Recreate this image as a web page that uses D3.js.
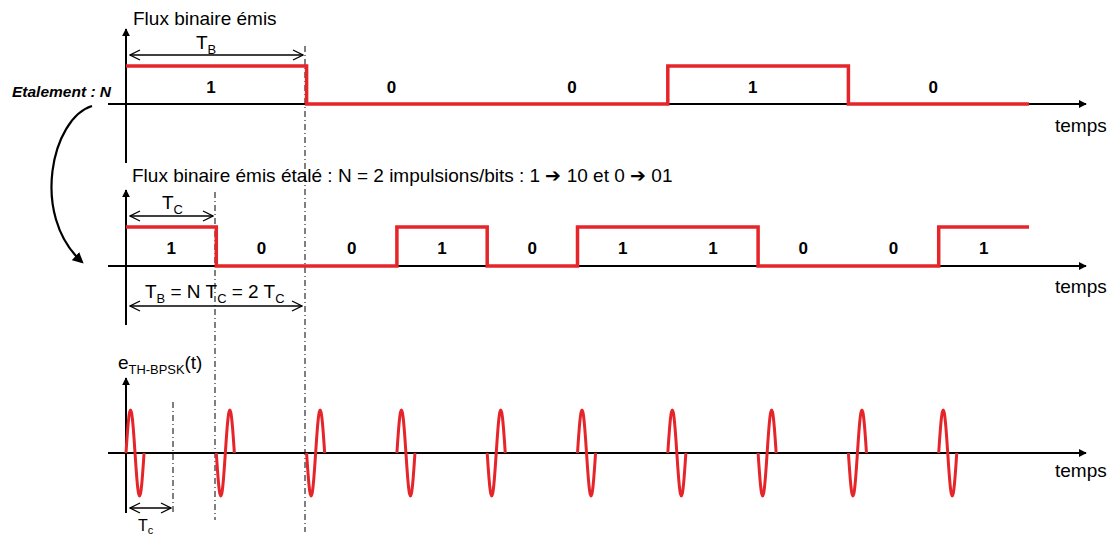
<!DOCTYPE html>
<html><head><meta charset="utf-8">
<script src="https://cdn.jsdelivr.net/npm/d3@7"></script>
<style>
body{margin:0;background:#fff;}
svg{display:block;font-family:"Liberation Sans",Arial,sans-serif;}
</style></head>
<body>
<svg id="c" width="1108" height="537"></svg>
<script>
// ---- data ----
const bits = [1, 0, 0, 1, 0];
const bitLabels = ["1", "0", "0", "1", "0"];
const chips = [1, 0, 0, 1, 0, 1, 1, 0, 0, 1];
const chipLabels = ["1", "0", "0", "1", "0", "1", "1", "0", "0", "1"];
const N = 2;
const pulseWidth = 0.2;   // fraction of a chip occupied by the pulse

const RED = "#e5252a";
const FS = 19;
const svg = d3.select("#c");

// scales
const xBit = d3.scaleLinear().domain([0, bits.length]).range([126, 1029]);
const xChip = d3.scaleLinear().domain([0, chips.length]).range([126, 1029]);
const yTop = d3.scaleLinear().domain([0, 1]).range([104, 66]);
const yMid = d3.scaleLinear().domain([0, 1]).range([266, 227]);
const yBot = d3.scaleLinear().domain([-1, 1]).range([496, 410]);

// markers
const defs = svg.append("defs");
defs.append("marker").attr("id", "ah").attr("viewBox", "0 -5 10 10")
  .attr("refX", 9).attr("refY", 0).attr("markerWidth", 8).attr("markerHeight", 8)
  .attr("markerUnits", "userSpaceOnUse").attr("orient", "auto")
  .append("path").attr("d", "M0,-5L10,0L0,5Z").attr("fill", "#000");
defs.append("marker").attr("id", "oa").attr("viewBox", "-1 -6 12 12")
  .attr("refX", 10).attr("refY", 0).attr("markerWidth", 12).attr("markerHeight", 12)
  .attr("markerUnits", "userSpaceOnUse").attr("orient", "auto-start-reverse")
  .append("path").attr("d", "M0,-5L10,0L0,5").attr("fill", "none").attr("stroke", "#000").attr("stroke-width", 1.3);
defs.append("marker").attr("id", "ca").attr("viewBox", "0 -5 10 10")
  .attr("refX", 8).attr("refY", 0).attr("markerWidth", 11).attr("markerHeight", 11)
  .attr("markerUnits", "userSpaceOnUse").attr("orient", "auto")
  .append("path").attr("d", "M0,-5L10,0L0,5Z").attr("fill", "#000");

function axes(y0, yTopTip, yBottom) {
  svg.append("line").attr("x1", 108).attr("x2", 1086).attr("y1", y0).attr("y2", y0)
    .attr("stroke", "#000").attr("stroke-width", 2).attr("marker-end", "url(#ah)");
  svg.append("line").attr("x1", 126).attr("x2", 126).attr("y1", yBottom).attr("y2", yTopTip)
    .attr("stroke", "#000").attr("stroke-width", 2).attr("marker-end", "url(#ah)");
}
function dashDot(x, y1, y2) {
  svg.append("line").attr("x1", x).attr("x2", x).attr("y1", y1).attr("y2", y2)
    .attr("stroke", "#000").attr("stroke-width", 1).attr("stroke-dasharray", "6,3,1,3");
}
function dblArrow(x1, x2, y) {
  svg.append("line").attr("x1", x1).attr("x2", x2).attr("y1", y).attr("y2", y)
    .attr("stroke", "#000").attr("stroke-width", 1.3)
    .attr("marker-start", "url(#oa)").attr("marker-end", "url(#oa)");
}
function label(x, y, parts, size, anchor) {
  const t = svg.append("text").attr("x", x).attr("y", y).attr("font-size", size)
    .attr("text-anchor", anchor || "start").attr("fill", "#000");
  let prevSub = false;
  parts.forEach(p => {
    if (typeof p === "string") {
      t.append("tspan").text(p).attr("dy", prevSub ? -5 : 0);
      prevSub = false;
    } else {
      t.append("tspan").text(p.sub).attr("font-size", size * 0.68).attr("dy", 5);
      prevSub = true;
    }
  });
  return t;
}

// dash-dot guides
dashDot(305, 46, 532);
dashDot(215, 192, 520);
dashDot(173, 402, 512);

// ---- top panel ----
axes(104, 29, 163);
const stepTop = [];
bits.forEach((b, i) => { stepTop.push([i, b]); stepTop.push([i + 1, b]); });
svg.append("path").datum(stepTop)
  .attr("d", d3.line().x(d => xBit(d[0])).y(d => yTop(d[1])))
  .attr("fill", "none").attr("stroke", RED).attr("stroke-width", 3.5);
svg.selectAll(".bl").data(bitLabels).enter().append("text")
  .attr("x", (d, i) => xBit(i + 0.47)).attr("y", 93)
  .attr("text-anchor", "middle").attr("font-size", 17).attr("font-weight", "bold").text(d => d);
label(133, 25, ["Flux binaire émis"], FS);
dblArrow(130, 303, 55);
label(196, 49, ["T", {sub: "B"}], FS);
label(1055, 132, ["temps"], FS);

svg.append("text").attr("x", 12).attr("y", 97).attr("font-size", 15.5)
  .attr("font-weight", "bold").attr("font-style", "italic").text("Etalement : N");
svg.append("path").attr("d", "M92,106 C52,118 30,215 82,262")
  .attr("fill", "none").attr("stroke", "#000").attr("stroke-width", 2.2).attr("marker-end", "url(#ca)");

// ---- middle panel ----
axes(266, 190, 325);
const stepMid = [];
chips.forEach((c, i) => { stepMid.push([i, c]); stepMid.push([i + 1, c]); });
svg.append("path").datum(stepMid)
  .attr("d", d3.line().x(d => xChip(d[0])).y(d => yMid(d[1])))
  .attr("fill", "none").attr("stroke", RED).attr("stroke-width", 3.5);
svg.selectAll(".cl").data(chipLabels).enter().append("text")
  .attr("x", (d, i) => xChip(i + 0.5)).attr("y", 254)
  .attr("text-anchor", "middle").attr("font-size", 17).attr("font-weight", "bold").text(d => d);
label(132, 182, ["Flux binaire émis étalé : N = " + N + " impulsions/bits : 1 ➔ 10 et 0 ➔ 01"], FS);
dblArrow(130, 213, 216);
label(162, 209, ["T", {sub: "C"}], FS);
label(145, 298, ["T", {sub: "B"}, " = N T", {sub: "C"}, " = " + N + " T", {sub: "C"}], FS);
dblArrow(130, 302, 306);
label(1055, 293, ["temps"], FS);

// ---- bottom panel ----
axes(453, 378, 513);
const samples = d3.range(0, 1.0001, 0.05);
const pulse = d3.line().x(d => d[0]).y(d => d[1]).curve(d3.curveCatmullRom);
chips.forEach((c, i) => {
  const sign = c === 1 ? 1 : -1;
  const pts = samples.map(s => [xChip(i + s * pulseWidth), yBot(sign * Math.sin(2 * Math.PI * s))]);
  svg.append("path").attr("d", pulse(pts)).attr("fill", "none")
    .attr("stroke", RED).attr("stroke-width", 3);
});
label(118, 369, ["e", {sub: "TH-BPSK"}, "(t)"], FS);
dblArrow(130, 171, 508);
const tc = svg.append("text").attr("x", 138).attr("y", 531).attr("font-size", 16);
tc.append("tspan").text("T");
tc.append("tspan").text("c").attr("font-size", 11).attr("dy", 3);
label(1055, 477, ["temps"], FS);
</script>
</body></html>
